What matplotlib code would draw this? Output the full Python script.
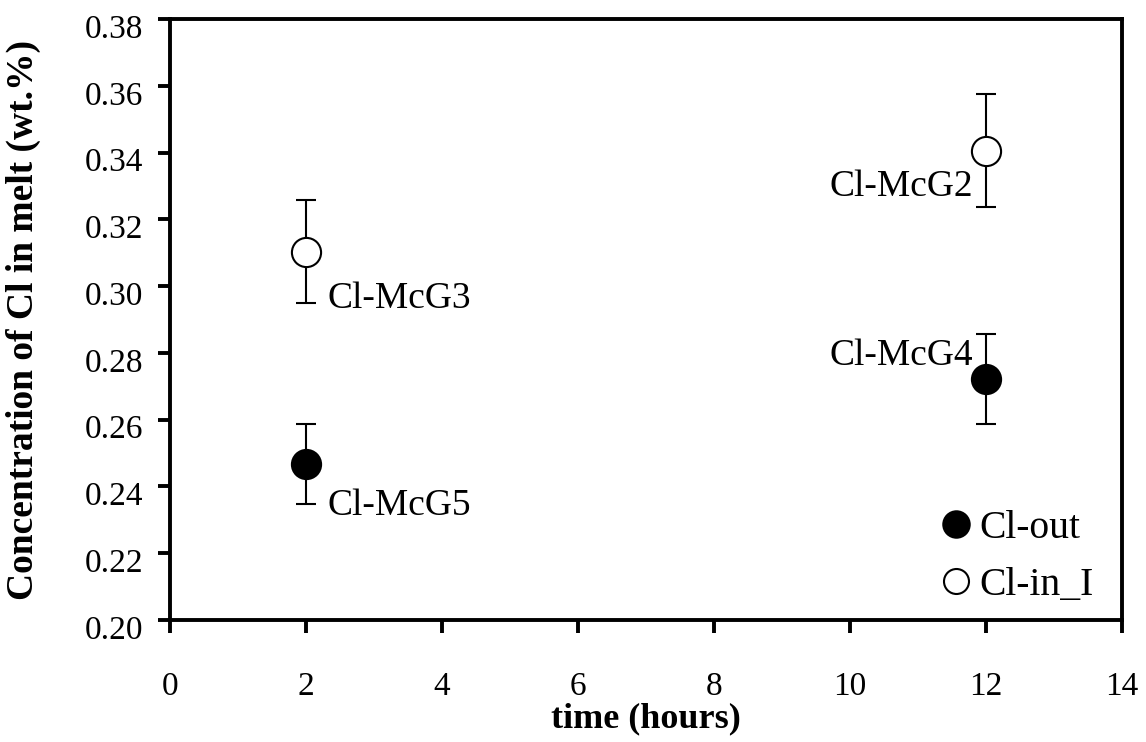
import matplotlib
matplotlib.use("Agg")
import matplotlib.pyplot as plt
import matplotlib.transforms as mtransforms
from matplotlib.lines import Line2D

plt.rcParams['font.family'] = ['Liberation Serif', 'DejaVu Serif']

# Cl-out (filled)
out_time = [2, 12]
out_conc = [0.2467, 0.2722]
out_err = [0.012, 0.0135]
out_names = ["Cl-McG5", "Cl-McG4"]

# Cl-in_I (open)
in_time = [2, 12]
in_conc = [0.3103, 0.3406]
in_err = [0.0155, 0.0169]
in_names = ["Cl-McG3", "Cl-McG2"]

# sample labels: baseline position in data coords
label_txt = out_names + in_names
label_x = [2.31, 11.81, 2.31, 11.81]
label_y = [0.2314, 0.2764, 0.2934, 0.3270]
label_ha = ['left', 'right', 'left', 'right']

fig = plt.figure(figsize=(11.46, 7.42), dpi=100)
ax = fig.add_axes([0.1483, 0.1644, 0.979 - 0.1483, 0.9744 - 0.1644])

ax.errorbar(out_time, out_conc, yerr=out_err, fmt='o', color='black',
            mfc='black', mec='black', ms=21, mew=1.5, elinewidth=1.5,
            capsize=7, capthick=1.5, zorder=3)
ax.errorbar(in_time, in_conc, yerr=in_err, fmt='o', color='black',
            mfc='white', mec='black', ms=21, mew=1.5, elinewidth=1.5,
            capsize=7, capthick=1.5, zorder=3)

for x, y, t, ha in zip(label_x, label_y, label_txt, label_ha):
    ax.text(x, y, t, ha=ha, va='baseline', fontsize=27)

ax.set_xlim(0, 14)
ax.set_ylim(0.20, 0.38)
ax.set_xticks(range(0, 15, 2))
ax.set_yticks([0.20 + 0.02 * i for i in range(10)])
ax.set_yticklabels(["%.2f" % (0.20 + 0.02 * i) for i in range(10)])

for s in ax.spines.values():
    s.set_linewidth(2.8)
ax.tick_params(axis='both', direction='out', length=9, width=2.8,
               labelsize=24)
ax.tick_params(axis='x', pad=28)
ax.tick_params(axis='y', pad=10)

# y tick labels sit a little below their ticks in the original
shift = mtransforms.ScaledTranslation(0, -7 / 100, fig.dpi_scale_trans)
for lab in ax.get_yticklabels():
    lab.set_transform(lab.get_transform() + shift)

ax.set_xlabel("time (hours)", fontsize=26, fontweight='bold', labelpad=0)
ax.set_ylabel("Concentration of Cl in melt (wt.%)", fontsize=27,
              fontweight='bold')
ax.yaxis.set_label_coords(-0.135, 0.5)

handles = [
    Line2D([], [], ls='none', marker='o', ms=19, mfc='black', mec='black', mew=1.5),
    Line2D([], [], ls='none', marker='o', ms=18, mfc='white', mec='black', mew=1.5),
]
ax.legend(handles, ["Cl-out", "Cl-in_I"], loc='lower right', frameon=False,
          fontsize=28.5, handlelength=1.0, handletextpad=0.1,
          labelspacing=0.52, bbox_to_anchor=(1.008, -0.033))

fig.savefig("out.png", dpi=100)
